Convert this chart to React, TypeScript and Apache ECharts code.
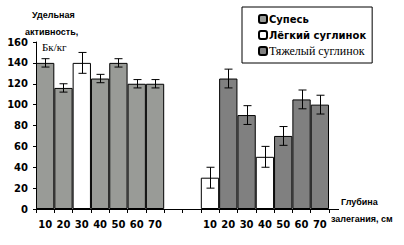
import React, { useEffect, useRef } from "react";
import * as echarts from "echarts";

const categories = ["10", "20", "30", "40", "50", "60", "70", "", "", "10", "20", "30", "40", "50", "60", "70"];
const supesValues = [140, 116, null, 125, 140, 120, 120, null, null, null, null, null, null, null, null, null];
const lightValues = [null, null, 140, null, null, null, null, null, null, 30, null, null, 50, null, null, null];
const heavyValues = [null, null, null, null, null, null, null, null, null, null, 125, 90, null, 70, 105, 100];
const errorValues = [4, 4, 10, 4, 4, 4, 4, null, null, 10, 9, 9, 10, 9, 9, 9];
const yTicks = { min: 0, max: 160, interval: 20 };

const LEFT_GREY = "#999b97";
const DARK_GREY = "#808080";
const TICK_FONT = "DejaVu Sans";

export default function App() {
  const ref = useRef<HTMLDivElement>(null);
  useEffect(() => {
    if (!ref.current) return;
    const chart = echarts.init(ref.current, null, { renderer: "svg" });
    const values = categories.map((_, i) => supesValues[i] ?? lightValues[i] ?? heavyValues[i]);
    const errData: any[] = [];
    values.forEach((v, i) => {
      const e = errorValues[i];
      if (v != null && e != null) errData.push([i, v - e, v + e]);
    });
    const barBase = {
      type: "bar",
      barWidth: "100%",
      barGap: "-100%",
      itemStyle: { borderColor: "#000", borderWidth: 1 },
    };
    chart.setOption({
      animation: false,
      backgroundColor: "#fff",
      grid: { left: 36, right: 75, top: 42, bottom: 36 },
      legend: {
        orient: "vertical",
        left: 242,
        top: 7,
        padding: [5, 6, 5, 16],
        itemGap: 2,
        itemWidth: 8,
        itemHeight: 8,
        borderColor: "#000",
        borderWidth: 1,
        backgroundColor: "#fff",
        textStyle: { fontFamily: "Liberation Serif", fontSize: 12, lineHeight: 14, color: "#000", padding: [0, 0, 0, -3] },
        data: [
          { name: "Супесь", textStyle: { fontWeight: "bold", fontFamily: "DejaVu Sans", fontSize: 10, lineHeight: 14 } },
          { name: "Лёгкий суглинок", textStyle: { fontWeight: "bold", fontFamily: "DejaVu Sans", fontSize: 10, lineHeight: 14 } },
          { name: "Тяжелый суглинок" },
        ],
      },
      xAxis: {
        type: "category",
        data: categories,
        boundaryGap: true,
        axisLine: { lineStyle: { color: "#000", width: 1 } },
        axisTick: { show: true, length: 4, interval: 0, lineStyle: { color: "#000" } },
        axisLabel: { interval: 0, margin: 10, color: "#000", fontFamily: TICK_FONT, fontWeight: "bold", fontSize: 10 },
        splitLine: { show: false },
      },
      yAxis: {
        type: "value",
        min: yTicks.min,
        max: yTicks.max,
        interval: yTicks.interval,
        axisLine: { show: true, lineStyle: { color: "#000", width: 1 } },
        axisTick: { show: true, length: 3, lineStyle: { color: "#000" } },
        axisLabel: { margin: 8, color: "#000", fontFamily: TICK_FONT, fontWeight: "bold", fontSize: 10 },
        splitLine: { show: false },
      },
      series: [
        { ...barBase, name: "Супесь", data: supesValues, itemStyle: { ...barBase.itemStyle, color: LEFT_GREY } },
        { ...barBase, name: "Лёгкий суглинок", data: lightValues, itemStyle: { ...barBase.itemStyle, color: "#fff" } },
        { ...barBase, name: "Тяжелый суглинок", data: heavyValues, itemStyle: { ...barBase.itemStyle, color: DARK_GREY } },
        {
          type: "custom",
          name: "err",
          data: errData,
          z: 10,
          renderItem: (params: any, api: any) => {
            const x = api.value(0);
            const lo = api.coord([x, api.value(1)]);
            const hi = api.coord([x, api.value(2)]);
            const cx = Math.round(lo[0]) + 0.5;
            const hw = 4;
            const style = { stroke: "#000", lineWidth: 1 };
            return {
              type: "group",
              children: [
                { type: "line", shape: { x1: cx, y1: hi[1], x2: cx, y2: lo[1] }, style },
                { type: "line", shape: { x1: cx - hw, y1: hi[1], x2: cx + hw, y2: hi[1] }, style },
                { type: "line", shape: { x1: cx - hw, y1: lo[1], x2: cx + hw, y2: lo[1] }, style },
              ],
            };
          },
        },
      ],
      graphic: [
        { type: "line", shape: { x1: 329, y1: 209.5, x2: 339, y2: 209.5 }, style: { stroke: "#000", lineWidth: 1 } },
        { type: "text", left: 32, top: 10, style: { text: "Удельная", font: "bold 9px 'Liberation Sans'", fill: "#000" } },
        { type: "text", left: 25, top: 27, style: { text: "активность,", font: "bold 9px 'Liberation Sans'", fill: "#000" } },
        { type: "text", left: 42, top: 41, style: { text: "Бк/кг", font: "11px 'Liberation Serif'", fill: "#000" } },
        { type: "text", left: 341, top: 197, style: { text: "Глубина", font: "bold 9px 'Liberation Sans'", fill: "#000" } },
        { type: "text", left: 331, top: 214, style: { text: "залегания, см", font: "bold 9px 'Liberation Sans'", fill: "#000" } },
      ],
    });
    return () => chart.dispose();
  }, []);
  return <div ref={ref} style={{ width: 404, height: 245, position: "absolute", left: 0, top: 0 }} />;
}
